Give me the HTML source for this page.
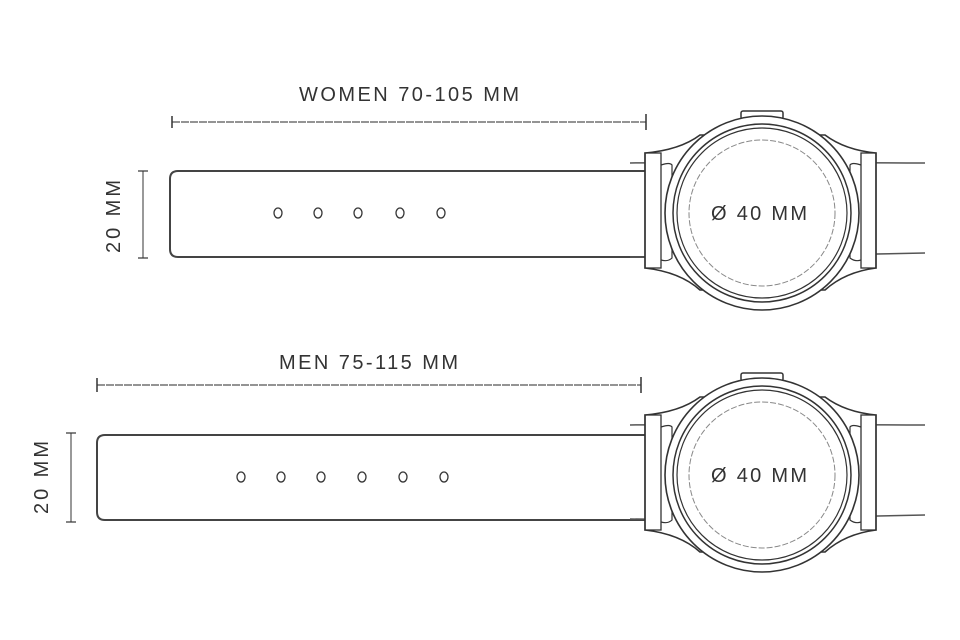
<!DOCTYPE html>
<html><head><meta charset="utf-8"><style>
html,body{margin:0;padding:0;background:#fff;}
svg{display:block;}
text{font-family:"Liberation Sans",sans-serif;fill:#333;}
</style></head><body>
<svg width="960" height="640" viewBox="0 0 960 640" xmlns="http://www.w3.org/2000/svg">
<defs>
<g id="watch" fill="none" stroke="#333">
  <path d="M630 163 Q700 162 925 163" stroke="#555" stroke-width="1.5"/>
  <path d="M630 257 Q700 258 925 253" stroke="#555" stroke-width="1.5"/>
  <rect x="741" y="111" width="42" height="8" rx="2" stroke-width="1.5" fill="#fff"/>
  <path d="M645 153 Q680 150 700 135 L825 135 Q845 150 876 153 L876 268 Q845 272 825 290 L700 290 Q680 272 645 268 Z" stroke-width="1.6" fill="#fff"/>
  <rect x="645" y="153" width="16" height="115" stroke-width="1.3"/>
  <rect x="861" y="153" width="15" height="115" stroke-width="1.3"/>
  <path d="M661 165 Q670 162 672 165 L672 258 Q668 262 661 260" stroke-width="1.2"/>
  <path d="M861 165 Q852 162 850 165 L850 258 Q855 262 861 260" stroke-width="1.2"/>
  <circle cx="762" cy="213" r="97" stroke-width="1.6" fill="#fff"/>
  <circle cx="762" cy="213" r="89" stroke-width="1.5"/>
  <circle cx="762" cy="213" r="85" stroke-width="1.2"/>
  <circle cx="762" cy="213" r="73" stroke="#888" stroke-width="1" stroke-dasharray="6 2"/>
</g>
</defs>

<!-- Women -->
<text x="299" y="101" font-size="20" textLength="220" lengthAdjust="spacing">WOMEN 70-105 MM</text>
<line x1="172" y1="122" x2="646" y2="122" stroke="#555" stroke-width="1.2" stroke-dasharray="8 1"/>
<line x1="172" y1="116" x2="172" y2="128" stroke="#333" stroke-width="1.5"/>
<line x1="646" y1="114" x2="646" y2="130" stroke="#333" stroke-width="1.5"/>
<path d="M650 171 L178 171 Q170 171 170 179 L170 249 Q170 257 178 257 L650 257" fill="none" stroke="#444" stroke-width="2"/>
<g fill="none" stroke="#333" stroke-width="1.3">
<ellipse cx="278" cy="213" rx="4" ry="5"/><ellipse cx="318" cy="213" rx="4" ry="5"/><ellipse cx="358" cy="213" rx="4" ry="5"/><ellipse cx="400" cy="213" rx="4" ry="5"/><ellipse cx="441" cy="213" rx="4" ry="5"/>
</g>
<line x1="143" y1="171" x2="143" y2="258" stroke="#555" stroke-width="1.2"/>
<line x1="138" y1="171" x2="148" y2="171" stroke="#333" stroke-width="1.2"/>
<line x1="138" y1="258" x2="148" y2="258" stroke="#333" stroke-width="1.2"/>
<text transform="translate(120 253) rotate(-90)" font-size="20" textLength="73" lengthAdjust="spacing">20 MM</text>
<use href="#watch"/>
<text x="711" y="220" font-size="20" textLength="96" lengthAdjust="spacing">Ø 40 MM</text>

<!-- Men -->
<text x="279" y="369" font-size="20" textLength="179" lengthAdjust="spacing">MEN 75-115 MM</text>
<line x1="97" y1="385" x2="641" y2="385" stroke="#555" stroke-width="1.2" stroke-dasharray="8 1"/>
<line x1="97" y1="378" x2="97" y2="392" stroke="#333" stroke-width="1.5"/>
<line x1="641" y1="377" x2="641" y2="393" stroke="#333" stroke-width="1.5"/>
<path d="M650 435 L105 435 Q97 435 97 443 L97 512 Q97 520 105 520 L650 520" fill="none" stroke="#444" stroke-width="2"/>
<g fill="none" stroke="#333" stroke-width="1.3">
<ellipse cx="241" cy="477" rx="4" ry="5"/><ellipse cx="281" cy="477" rx="4" ry="5"/><ellipse cx="321" cy="477" rx="4" ry="5"/><ellipse cx="362" cy="477" rx="4" ry="5"/><ellipse cx="403" cy="477" rx="4" ry="5"/><ellipse cx="444" cy="477" rx="4" ry="5"/>
</g>
<line x1="71" y1="433" x2="71" y2="522" stroke="#555" stroke-width="1.2"/>
<line x1="66" y1="433" x2="76" y2="433" stroke="#333" stroke-width="1.2"/>
<line x1="66" y1="522" x2="76" y2="522" stroke="#333" stroke-width="1.2"/>
<text transform="translate(48 514) rotate(-90)" font-size="20" textLength="73" lengthAdjust="spacing">20 MM</text>
<use href="#watch" transform="translate(0 262)"/>
<text x="711" y="482" font-size="20" textLength="96" lengthAdjust="spacing">Ø 40 MM</text>
</svg>
</body></html>
